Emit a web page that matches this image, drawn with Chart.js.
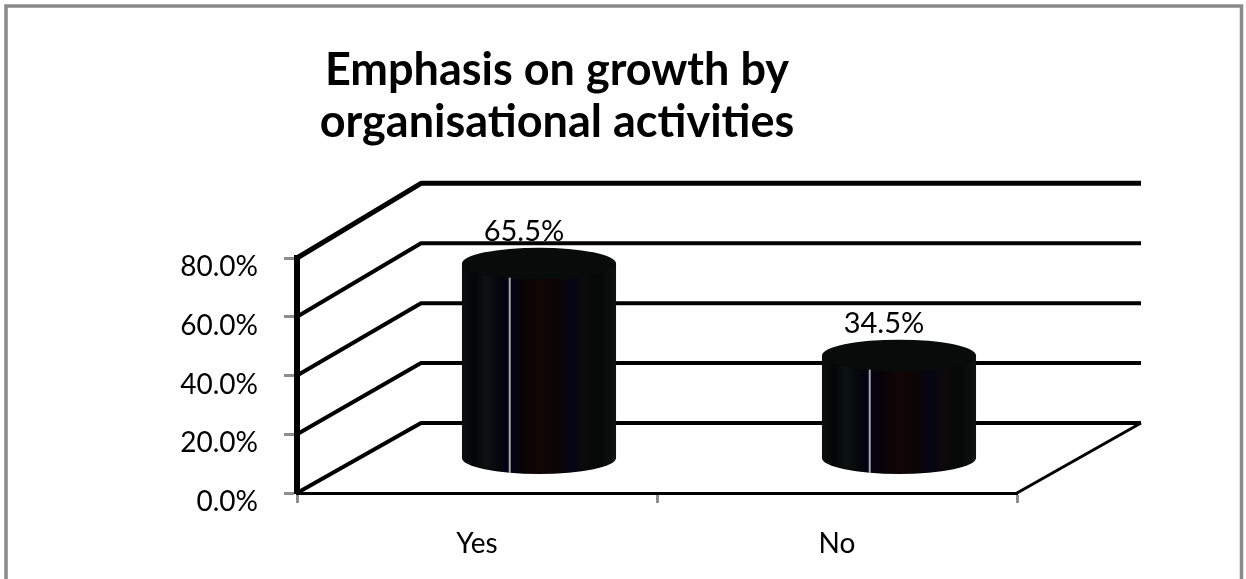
<!DOCTYPE html>
<html>
<head>
<meta charset="utf-8">
<title>Emphasis on growth by organisational activities</title>
<script src="https://cdn.jsdelivr.net/npm/chart.js"></script>
<style>
  html, body { margin: 0; padding: 0; background: #fff; }
  canvas { display: block; }
</style>
</head>
<body>
<canvas id="myChart" width="1246" height="579"></canvas>
<script>
const categories = ['Yes', 'No'];
const shares = [65.5, 34.5];
const tickValues = [0, 20, 40, 60, 80];

// fake 3D: how far the back wall sits from the front plane
const depthX = 124;
const depthY = -70;
const depthScale = 1.02;
const FONT = 'Lato';

function pct(v) { return v.toFixed(1) + '%'; }

// grey outline round the whole chart
const frame = {
  id: 'frame',
  beforeDraw(chart) {
    const c = chart.ctx;
    c.save();
    c.strokeStyle = '#8a8a8a';
    c.lineWidth = 3.5;
    c.strokeRect(6, 6, 1235.5, 620);
    c.restore();
  }
};

// side wall, back wall and floor edge
const walls = {
  id: 'walls',
  beforeDatasetsDraw(chart) {
    const {ctx, chartArea, scales: {y}} = chart;
    const y0 = y.getPixelForValue(0);
    const backY = v => y0 + depthY + (y.getPixelForValue(v) - y0) * depthScale;
    ctx.save();
    ctx.strokeStyle = '#000';
    ctx.lineJoin = 'round';
    tickValues.forEach((v, i) => {
      ctx.lineWidth = i === tickValues.length - 1 ? 5 : 4;
      ctx.beginPath();
      ctx.moveTo(chartArea.left, y.getPixelForValue(v));
      ctx.lineTo(chartArea.left + depthX, backY(v));
      ctx.lineTo(chartArea.right + depthX, backY(v));
      ctx.stroke();
    });
    ctx.lineWidth = 3;
    ctx.beginPath();
    ctx.moveTo(chartArea.right, y0);
    ctx.lineTo(chartArea.right + depthX, backY(0));
    ctx.stroke();
    ctx.restore();
  }
};

// each bar becomes a cylinder standing half way into the depth
const cylinders = {
  id: 'cylinders',
  afterDatasetsDraw(chart) {
    const {ctx, scales: {y}} = chart;
    const meta = chart.getDatasetMeta(0);
    const y0 = y.getPixelForValue(0);
    const midScale = 1 + (depthScale - 1) / 2;
    ctx.save();
    meta.data.forEach((bar, i) => {
      const {x, y: top, width} = bar.getProps(['x', 'y', 'width'], true);
      const cx = x + depthX / 2;
      const rx = width / 2;
      const ry = 16;
      const by = y0 + depthY / 2;
      const ty = by + (top - y0) * midScale;
      const left = cx - rx;

      const g = ctx.createLinearGradient(left, 0, left + width, 0);
      [[0, '#0c0f0e'], [0.08, '#050507'], [0.16, '#0d1211'], [0.24, '#06060c'],
       [0.3, '#030318'], [0.4, '#0a0306'], [0.5, '#120505'], [0.62, '#0b0604'],
       [0.7, '#050516'], [0.8, '#0c0a0a'], [0.9, '#060808'], [1, '#0f1211']]
        .forEach(([o, c]) => g.addColorStop(o, c));

      ctx.fillStyle = g;
      ctx.beginPath();
      ctx.moveTo(left, ty);
      ctx.lineTo(left, by);
      ctx.ellipse(cx, by, rx, ry, 0, Math.PI, 0, true);
      ctx.lineTo(left + width, ty);
      ctx.closePath();
      ctx.fill();

      ctx.fillStyle = '#070b09';
      ctx.beginPath();
      ctx.ellipse(cx, ty, rx, ry, 0, 0, Math.PI * 2);
      ctx.fill();

      ctx.strokeStyle = '#a8a8a8';
      ctx.lineWidth = 2;
      ctx.beginPath();
      ctx.moveTo(left + width * 0.31, ty + ry - 2);
      ctx.lineTo(left + width * 0.31, by + ry - 1);
      ctx.stroke();

      ctx.fillStyle = '#000';
      ctx.font = '29px ' + FONT;
      ctx.textAlign = 'center';
      ctx.textBaseline = 'alphabetic';
      ctx.fillText(pct(shares[i]), cx - 15, ty - 23);
    });
    ctx.restore();
  }
};

new Chart(document.getElementById('myChart'), {
  type: 'bar',
  data: {
    labels: categories,
    datasets: [{
      label: 'Share',
      data: shares,
      backgroundColor: 'rgba(0,0,0,0)',
      borderWidth: 0,
      categoryPercentage: 1,
      barPercentage: 0.428
    }]
  },
  options: {
    responsive: false,
    animation: false,
    layout: { padding: { left: 97, right: 229, top: 0, bottom: 0 } },
    plugins: {
      legend: { display: false },
      tooltip: { enabled: false },
      title: {
        display: true,
        text: ['Emphasis on growth by', 'organisational activities'],
        color: '#000',
        font: { family: FONT, size: 45, weight: 'bold', lineHeight: 52 / 45 },
        padding: { top: 44.5, bottom: 109.5 }
      }
    },
    scales: {
      x: {
        grid: { offset: true, drawOnChartArea: false, tickLength: 10, tickColor: '#8c8c8c', tickWidth: 3 },
        border: { color: '#000', width: 3 },
        ticks: { color: '#000', font: { family: FONT, size: 28 }, padding: 24 },
        afterFit(s) { s.height = 86; }
      },
      y: {
        min: 0,
        max: 80,
        afterBuildTicks(s) { s.ticks = tickValues.map(v => ({ value: v })); },
        ticks: {
          callback: v => pct(v),
          color: '#000',
          font: { family: FONT, size: 28 },
          padding: 26,
          labelOffset: 9
        },
        grid: { drawOnChartArea: false, tickLength: 13, tickColor: '#8c8c8c', tickWidth: 3 },
        border: { color: '#000', width: 6 },
        afterFit(s) { s.width = 200; }
      }
    }
  },
  plugins: [frame, walls, cylinders]
});
</script>
</body>
</html>
